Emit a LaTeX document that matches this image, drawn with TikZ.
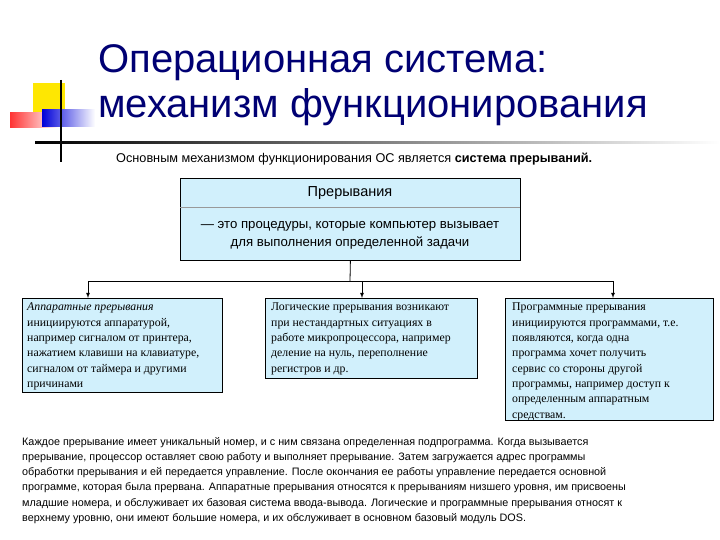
\documentclass[tikz,border=0pt]{standalone}
\usepackage{fontspec}
\setmainfont{Liberation Sans}
\newfontfamily\serifru{Liberation Serif}
\begin{document}
\begin{tikzpicture}[x=1pt,y=-1pt,
  box/.style={draw=black,fill=cyan!18,line width=0.8pt},
  small/.style={font=\serifru\fontsize{11.8}{15.3}\selectfont,align=left,anchor=north west,inner sep=0pt},
  arr/.style={-latex,line width=0.8pt}]
\useasboundingbox (0,0) rectangle (720,540);
% decoration
\fill[yellow!90!orange] (33,83) rectangle (65,112);
\shade[left color=red!80,right color=white] (10,113) rectangle (58,128);
\shade[left color=blue!85!black,right color=white] (42,110) rectangle (95,127);
\draw[line width=1.2pt] (61,80) -- (61,162);
\shade[left color=black,right color=white] (35,142) rectangle (720,143.5);
% title
\node[anchor=base west,inner sep=0pt,text=blue!45!black,font=\fontsize{40}{42}\selectfont] (t1) at (98,73) {Операционная система:};
\node[anchor=base west,inner sep=0pt,text=blue!45!black,font=\fontsize{40}{42}\selectfont] (t2) at (98,118) {механизм функционирования};
\node[anchor=base west,inner sep=0pt,font=\fontsize{12.7}{14}\selectfont] (sub) at (116,163) {Основным механизмом функционирования ОС является \textbf{система прерываний.}};
% main box
\node[box,minimum width=340,minimum height=82,anchor=north west,inner sep=0pt] (main) at (180,178) {};
\node[font=\fontsize{14.5}{17}\selectfont,inner sep=0pt] (mt) at (350,193) {Прерывания};
\draw[black!40] (180,207) -- (520,207);
\node[font=\fontsize{13.2}{18}\selectfont,align=center,inner sep=0pt] (md) at (350,235) {— это процедуры, которые компьютер вызывает\\для выполнения определенной задачи};
% boxes
\node[box,minimum width=200,minimum height=94,anchor=north west,inner sep=0pt] (b1) at (22,298) {};
\node[box,minimum width=212,minimum height=80,anchor=north west,inner sep=0pt] (b2) at (265,298) {};
\node[box,minimum width=208,minimum height=122,anchor=north west,inner sep=0pt] (b3) at (505,298) {};
\node[small] (t1b) at (27,303) {\textit{Аппаратные прерывания}\\инициируются аппаратурой,\\например сигналом от принтера,\\нажатием клавиши на клавиатуре,\\сигналом от таймера и другими\\причинами};
\node[small] (t2b) at (271,303) {Логические прерывания возникают\\при нестандартных ситуациях в\\работе микропроцессора, например\\деление на нуль, переполнение\\регистров и др.};
\node[small] (t3b) at (512,303) {Программные прерывания\\инициируются программами, т.е.\\появляются, когда одна\\программа хочет получить\\сервис со стороны другой\\программы, например доступ к\\определенным аппаратным\\средствам.};
% connectors
\coordinate (j) at (350,281);
\coordinate (jl) at (88,281);
\coordinate (jm) at (362,281);
\coordinate (jr) at (613,281);
\coordinate (el) at (88,298);
\coordinate (em) at (362,298);
\coordinate (er) at (613,298);
\draw[line width=0.8pt] (main.south) -- (j);
\draw[line width=0.8pt] (jl) -- (jr);
\draw[arr] (jl) -- (el);
\draw[arr] (jm) -- (em);
\draw[arr] (jr) -- (er);
% paragraph
\node[anchor=north west,inner sep=0pt,align=left,font=\fontsize{10.8}{15.2}\selectfont] (para) at (22,437) {Каждое прерывание имеет уникальный номер, и с ним связана определенная подпрограмма. Когда вызывается\\прерывание, процессор оставляет свою работу и выполняет прерывание. Затем загружается адрес программы\\обработки прерывания и ей передается управление. После окончания ее работы управление передается основной\\программе, которая была прервана. Аппаратные прерывания относятся к прерываниям низшего уровня, им присвоены\\младшие номера, и обслуживает их базовая система ввода-вывода. Логические и программные прерывания относят к\\верхнему уровню, они имеют большие номера, и их обслуживает в основном базовый модуль DOS.};
\end{tikzpicture}
\end{document}
